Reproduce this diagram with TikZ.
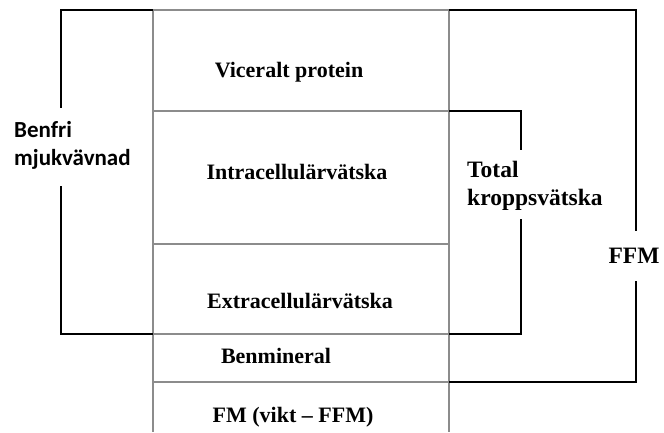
\documentclass[tikz,border=0pt]{standalone}
\usepackage{fontspec}
\setmainfont{Liberation Serif}
\newfontfamily\sidefont{Carlito}
\usetikzlibrary{positioning}
\tikzstyle{grid} = [draw=gray!90, line width=1.6pt]
\tikzstyle{bracket} = [draw=black, line width=2.4pt]
\tikzstyle{part} = [font=\fontsize{22}{28}\selectfont\bfseries,
inner sep=0pt, 
anchor=base]
\tikzstyle{side} = [font=\fontsize{23.5}{28}\selectfont\bfseries,
inner sep=0pt, 
align=left, 
anchor=base west]

\begin{document}
\begin{tikzpicture}[x=1pt, y=-1pt]
        \useasboundingbox (0,0) rectangle (664,432);

        % --- Tabell ---
        \coordinate (tl) at (153,10);
        \coordinate (tr) at (449,10);
        \draw [grid] (tl) -- (tr);
        \draw [grid] (tl) -- (153,432);
        \draw [grid] (tr) -- (449,432);
        \foreach \y in {111,244,334,382}
            \draw [grid] (153,\y) -- (449,\y);

        % --- Delar ---
        \node (protein) [part] at (289,77) {Viceralt protein};
        \node (icv) [part] at (297,179) {Intracellulärvätska};
        \node (ecv) [part] at (300,308) {Extracellulärvätska};
        \node (mineral) [part] at (276,363) {Benmineral};
        \node (fm) [part] at (293,422) {FM (vikt -- FFM)};

        % --- Sidoetiketter ---
        \node (benfri) [side, font=\fontsize{23}{28}\sidefont\bfseries] at (14,165) {Benfri\\mjukvävnad};
        \node (tbw) [side] at (467,205) {Total\\kroppsvätska};
        \node (ffm) [part, font=\fontsize{23.5}{28}\selectfont\bfseries] at (634,263) {FFM};

        % --- Klamrar ---
        \draw [bracket] (tl) -- (61,10) -- (61,108);
        \draw [bracket] (61,186) -- (61,334) -- (153,334);
        \draw [bracket] (449,111) -- (521,111) -- (521,150);
        \draw [bracket] (521,219) -- (521,334) -- (449,334);
        \draw [bracket] (tr) -- (636,10) -- (636,231);
        \draw [bracket] (636,281) -- (636,382) -- (449,382);

    \end{tikzpicture}
\end{document}
